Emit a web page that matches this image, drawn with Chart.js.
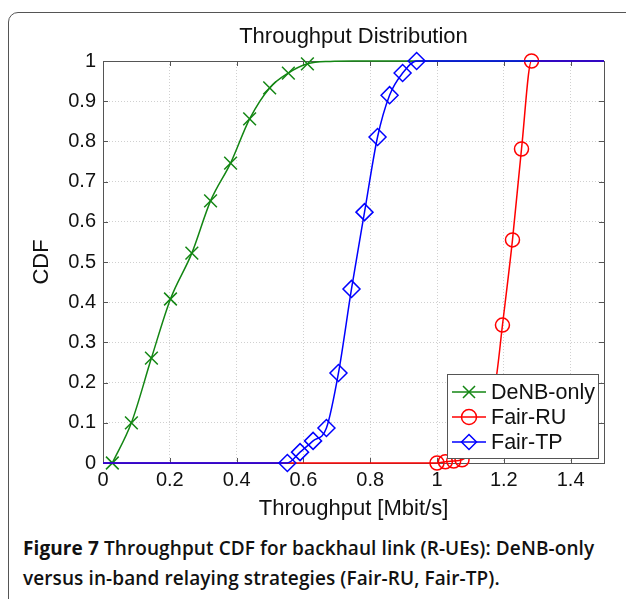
<!DOCTYPE html>
<html>
<head>
<meta charset="utf-8">
<script src="https://cdn.jsdelivr.net/npm/chart.js@4"></script>
<style>
  body { margin: 0; background: #fff; width: 626px; height: 599px; overflow: hidden; position: relative; }
  #frame { position: absolute; left: 8px; top: 12px; width: 700px; height: 700px; border: 1.5px solid #555; border-radius: 10px; }
  #wrap { position: absolute; left: 0; top: 0; width: 626px; height: 530px; }
  #caption { position: absolute; left: 23px; top: 533px; width: 610px; white-space: nowrap; font-family: "Open Sans", "Noto Sans", sans-serif; font-weight: 600; font-size: 19px; letter-spacing: 0.1px; line-height: 30px; color: #111; }
  #caption b { font-weight: 700; }
</style>
</head>
<body>
<div id="frame"></div>
<div id="wrap"><canvas id="cdf" width="626" height="530"></canvas></div>
<div id="caption"><b>Figure 7</b> Throughput CDF for backhaul link (R-UEs): DeNB-only<br>versus in-band relaying strategies (Fair-RU, Fair-TP).</div>
<script>
document.addEventListener("DOMContentLoaded", function() {
    // series values (marked = drawn with a marker)
    const denbX = [0.028, 0.085, 0.145, 0.202, 0.266, 0.322, 0.382, 0.439, 0.499, 0.555, 0.612, 0.68, 0.75, 1.5];
    const denbY = [0, 0.10, 0.261, 0.408, 0.522, 0.652, 0.746, 0.856, 0.933, 0.970, 0.993, 0.999, 1, 1];
    const denbMarked = [1, 1, 1, 1, 1, 1, 1, 1, 1, 1, 1, 0, 0, 0];

    const fairRuX = [0, 1.0, 1.025, 1.05, 1.075, 1.175, 1.196, 1.226, 1.253, 1.283, 1.5];
    const fairRuY = [0, 0, 0.003, 0.005, 0.008, 0.2, 0.343, 0.555, 0.781, 1, 1];
    const fairRuMarked = [0, 1, 1, 1, 1, 0, 1, 1, 1, 1, 0];

    const fairTpX = [0, 0.552, 0.590, 0.629, 0.669, 0.705, 0.744, 0.783, 0.822, 0.858, 0.897, 0.939, 1.5];
    const fairTpY = [0, 0, 0.027, 0.055, 0.087, 0.224, 0.433, 0.624, 0.811, 0.915, 0.970, 1, 1];
    const fairTpMarked = [0, 1, 1, 1, 1, 1, 1, 1, 1, 1, 1, 1, 0];

    const legendNames = ["DeNB-only", "Fair-RU", "Fair-TP"];
    const xTicks = [0, 0.2, 0.4, 0.6, 0.8, 1, 1.2, 1.4];
    const yTicks = [0, 0.1, 0.2, 0.3, 0.4, 0.5, 0.6, 0.7, 0.8, 0.9, 1];
    const chartTitle = "Throughput Distribution";

    const font = "'Liberation Sans', Arial, sans-serif";

    function pts(xs, ys) {
        return xs.map((x, i) => ({ x: x, y: ys[i] }));
    }

    function series(label, xs, ys, marked, color, style, size, order) {
        return {
            label: label,
            data: pts(xs, ys),
            borderColor: color,
            backgroundColor: "transparent",
            borderWidth: 1.5,
            pointStyle: style,
            pointRadius: marked.map(m => m ? size : 0),
            pointBorderWidth: 1.5,
            pointBorderColor: color,
            pointBackgroundColor: "transparent",
            cubicInterpolationMode: "monotone",
            clip: 10,
            order: order
        };
    }

    // axes box with inward ticks + title over the plot, drawn under the lines
    const boxPlugin = {
        id: "box",
        beforeDatasetsDraw(chart) {
            const { ctx, chartArea: a, scales } = chart;
            ctx.save();
            ctx.strokeStyle = "#555";
            ctx.lineWidth = 1;
            ctx.strokeRect(a.left + 0.5, a.top + 0.5, a.right - a.left, a.bottom - a.top);
            ctx.beginPath();
            xTicks.forEach(v => {
                const px = Math.round(scales.x.getPixelForValue(v)) + 0.5;
                ctx.moveTo(px, a.bottom); ctx.lineTo(px, a.bottom - 5);
                ctx.moveTo(px, a.top); ctx.lineTo(px, a.top + 5);
            });
            yTicks.forEach(v => {
                const py = Math.round(scales.y.getPixelForValue(v)) + 0.5;
                ctx.moveTo(a.left, py); ctx.lineTo(a.left + 5, py);
                ctx.moveTo(a.right, py); ctx.lineTo(a.right - 5, py);
            });
            ctx.stroke();
            ctx.fillStyle = "#111";
            ctx.font = "22px " + font;
            ctx.textAlign = "center";
            ctx.textBaseline = "middle";
            ctx.fillText(chartTitle, (a.left + a.right) / 2, 37);
            ctx.restore();
        }
    };

    function marker(ctx, style, x, y, r) {
        ctx.beginPath();
        if (style === "circle") {
            ctx.arc(x, y, r, 0, Math.PI * 2);
        } else if (style === "rectRot") {
            ctx.moveTo(x, y - r); ctx.lineTo(x + r, y); ctx.lineTo(x, y + r); ctx.lineTo(x - r, y); ctx.closePath();
        } else {
            const d = r * 0.707;
            ctx.moveTo(x - d, y - d); ctx.lineTo(x + d, y + d);
            ctx.moveTo(x + d, y - d); ctx.lineTo(x - d, y + d);
        }
        ctx.stroke();
    }

    // matlab style legend box
    const legendPlugin = {
        id: "mlegend",
        afterDatasetsDraw(chart) {
            const ctx = chart.ctx;
            const bx = 447.5, by = 374.5, bw = 151, bh = 84;
            ctx.save();
            ctx.fillStyle = "#fff";
            ctx.fillRect(bx, by, bw, bh);
            ctx.strokeStyle = "#555";
            ctx.lineWidth = 1;
            ctx.strokeRect(bx, by, bw, bh);
            ctx.font = "21.5px " + font;
            ctx.textBaseline = "middle";
            legendNames.forEach((name, i) => {
                const ds = chart.data.datasets.find(d => d.label === name);
                const y = 392 + i * 25;
                ctx.strokeStyle = ds.borderColor;
                ctx.lineWidth = 1.5;
                ctx.beginPath();
                ctx.moveTo(452, y); ctx.lineTo(486, y);
                ctx.stroke();
                marker(ctx, ds.pointStyle, 469, y, ds.pointStyle === "crossRot" ? 8.5 : 7.5);
                ctx.fillStyle = "#111";
                ctx.fillText(name, 491, y + 1);
            });
            ctx.restore();
        }
    };

    let ctx = document.getElementById("cdf").getContext("2d");
    var cdfChart = new Chart(ctx, {
        type: "line",
        data: {
            datasets: [
                series("DeNB-only", denbX, denbY, denbMarked, "#138613", "crossRot", 9, 2),
                series("Fair-RU", fairRuX, fairRuY, fairRuMarked, "#ff0000", "circle", 7, 1),
                series("Fair-TP", fairTpX, fairTpY, fairTpMarked, "#0000ff", "rectRot", 8.5, 0)
            ]
        },
        options: {
            responsive: false,
            animation: false,
            events: [],
            layout: { padding: { left: 0, right: 22, top: 61, bottom: 0 } },
            plugins: {
                legend: { display: false },
                tooltip: { enabled: false },
                title: { display: false }
            },
            scales: {
                x: {
                    type: "linear",
                    min: 0,
                    max: 1.5,
                    afterBuildTicks: s => { s.ticks = xTicks.map(v => ({ value: v })); },
                    afterFit: s => { s.height = 67; },
                    grid: { color: "#d0d0d0", tickLength: 0, drawTicks: false },
                    border: { display: false, dash: [1, 2] },
                    ticks: {
                        padding: 5,
                        color: "#111",
                        maxRotation: 0,
                        font: { family: font, size: 20 },
                        callback: v => String(Math.round(v * 10) / 10)
                    },
                    title: {
                        display: true,
                        text: "Throughput [Mbit/s]",
                        color: "#111",
                        font: { family: font, size: 22 },
                        padding: { top: 0, bottom: 8 }
                    }
                },
                y: {
                    type: "linear",
                    min: 0,
                    max: 1,
                    afterBuildTicks: s => { s.ticks = yTicks.map(v => ({ value: v })); },
                    afterFit: s => { s.width = 103; },
                    grid: { color: "#d0d0d0", tickLength: 0, drawTicks: false },
                    border: { display: false, dash: [1, 2] },
                    ticks: {
                        padding: 7,
                        color: "#111",
                        font: { family: font, size: 20 },
                        callback: v => String(Math.round(v * 10) / 10)
                    },
                    title: {
                        display: true,
                        text: "CDF",
                        color: "#111",
                        font: { family: font, size: 22 },
                        padding: { top: 29, bottom: 0 }
                    }
                }
            }
        },
        plugins: [boxPlugin, legendPlugin]
    });
});
</script>
</body>
</html>
